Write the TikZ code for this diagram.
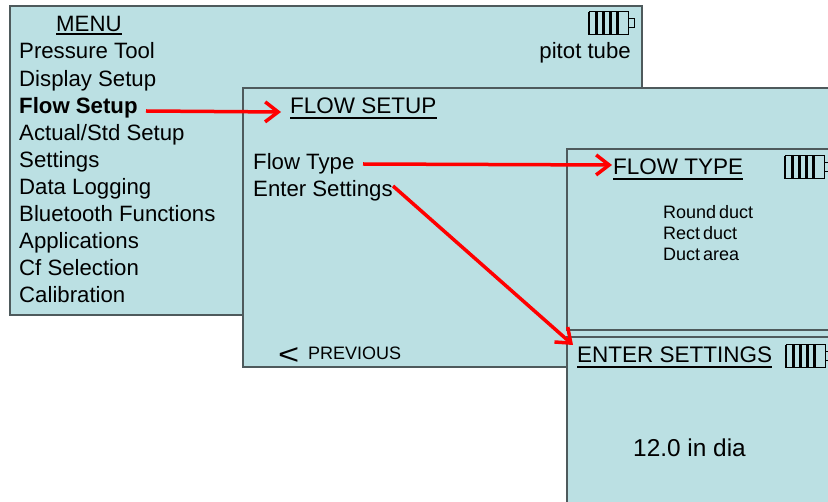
\documentclass[tikz,border=0pt]{standalone}
\usepackage{fontspec}
\setmainfont{Liberation Sans}
\usetikzlibrary{arrows.meta}
\definecolor{panelblue}{RGB}{187,224,227}
\definecolor{panelborder}{RGB}{78,90,92}
\tikzset{
  panel/.style={fill=panelblue, draw=panelborder, line width=1.5pt},
  txt/.style={anchor=base west, inner sep=0pt, font=\fontsize{22.2}{26}\selectfont},
  titletxt/.style={anchor=base west, inner sep=0pt, font=\fontsize{22.5}{26}\selectfont},
  smalltxt/.style={anchor=base west, inner sep=0pt, font=\fontsize{18}{21}\selectfont},
  uline/.style={draw=black, line width=2pt},
  redarrow/.style={draw=red, line width=3.5pt, -{Straight Barb[length=13pt,width=20pt]}},
  battery/.pic={
    \draw[line width=1pt] (0,0) rectangle (39,23);
    \foreach \bx in {0,7.4,14.4,21.4,28.4} \draw[line width=2.8pt] (\bx,0) -- (\bx,23);
    \draw[line width=1pt] (39,7) rectangle (45.5,16);
  }
}
\begin{document}
\begin{tikzpicture}[x=1pt,y=-1pt]
\useasboundingbox (0,0) rectangle (828,502);
\fill[white] (0,0) rectangle (828,502);
\clip (0,0) rectangle (828,502);

% panels
\draw[panel] (10,6) rectangle (642,315);
\draw[panel] (243,88) rectangle (860,367);
\draw[panel] (567,149) rectangle (860,330);
\draw[panel] (567,337) rectangle (860,540);

% menu panel
\node[txt] (menut) at (56,32) {MENU};
\draw[uline] ([yshift=-2.5pt]menut.base west) -- ([yshift=-2.5pt]menut.base east);
\node[txt] (m1) at (19,59) {Pressure Tool};
\node[txt] (m2) at (19,86.1) {Display Setup};
\node[txt] (m3) at (19,113.2) {\textbf{Flow Setup}};
\node[txt] (m4) at (19,140.3) {Actual/Std Setup};
\node[txt] (m5) at (19,167.4) {Settings};
\node[txt] (m6) at (19,194.5) {Data Logging};
\node[txt] (m7) at (19,221.6) {Bluetooth Functions};
\node[txt] (m8) at (19,248.7) {Applications};
\node[txt] (m9) at (19,275.8) {Cf Selection};
\node[txt] (m10) at (19,302.9) {Calibration};
\node[txt, anchor=base east] (pitot) at (631,59) {pitot tube};
\pic at (589,12) {battery};

% flow setup panel
\node[titletxt] (fst) at (290,114) {FLOW SETUP};
\draw[uline] ([yshift=-4.5pt]fst.base west) -- ([yshift=-4.5pt]fst.base east);
\node[txt] (ftype) at (253,170) {Flow Type};
\node[txt] (eset) at (253,197) {Enter Settings};
\node[txt, font=\fontsize{29}{32}\selectfont] (lt) at (278,365) {\scalebox{1.25}[1]{<}};
\node[txt, font=\fontsize{18}{22}\selectfont] (prev) at (308,360) {PREVIOUS};

% flow type panel
\node[titletxt] (ftt) at (613,175) {FLOW TYPE};
\draw[uline] ([yshift=-4pt]ftt.base west) -- ([yshift=-4pt]ftt.base east);
\pic at (785,156) {battery};
\node[smalltxt] (o1) at (663,219) {Round\hspace{3pt}duct};
\node[smalltxt] (o2) at (663,240) {Rect\hspace{3pt}duct};
\node[smalltxt] (o3) at (663,261) {Duct\hspace{3pt}area};

% enter settings panel
\node[titletxt] (est) at (577,363) {ENTER SETTINGS};
\draw[uline] ([yshift=-4pt]est.base west) -- ([yshift=-4pt]est.base east);
\pic at (786,345) {battery};
\node[txt, font=\fontsize{24.4}{28}\selectfont] (val) at (633,457) {12.0 in dia};

% connectors
\coordinate (a1s) at (146,111);
\coordinate (a1e) at (281,112);
\coordinate (a2s) at (363,164);
\coordinate (a2e) at (612,165);
\coordinate (a3s) at (393,186);
\coordinate (a3e) at (573,345);
\draw[redarrow] (a1s) -- (a1e);
\draw[redarrow] (a2s) -- (a2e);
\draw[redarrow] (a3s) -- (a3e);
\end{tikzpicture}
\end{document}
